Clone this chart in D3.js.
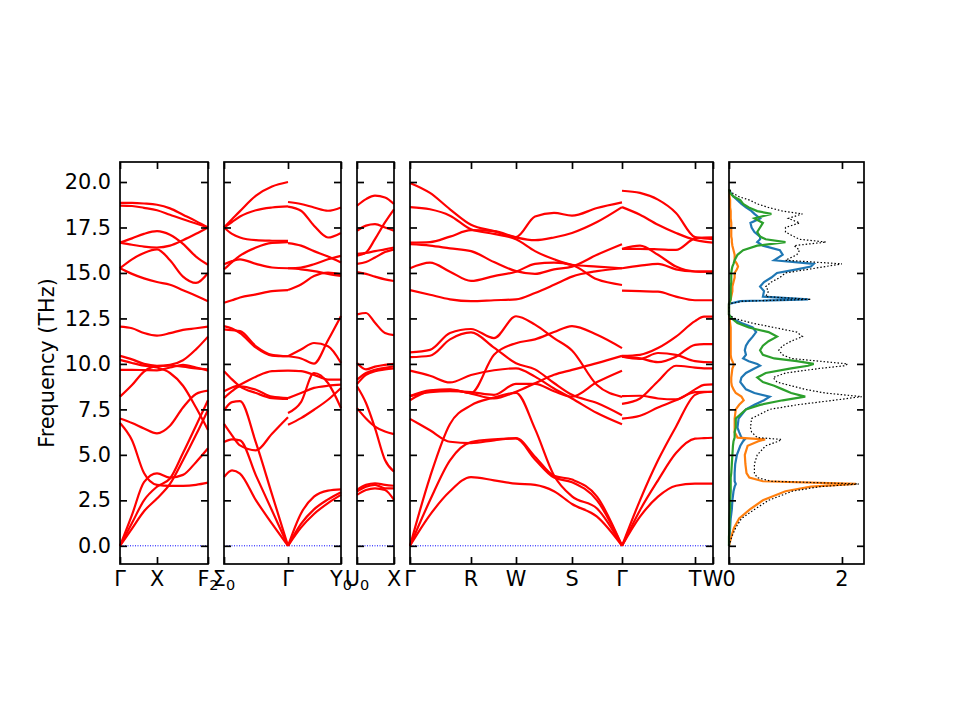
<!DOCTYPE html>
<html>
<head>
<meta charset="utf-8">
<script src="https://cdn.jsdelivr.net/npm/d3@7"></script>
<style>
  body { margin: 0; background: #fff; }
  text { font-family: "DejaVu Sans", sans-serif; }
</style>
</head>
<body>
<div id="chart"></div>
<script>
// ---- tick values / labels ----
const yTicks = [0, 2.5, 5, 7.5, 10, 12.5, 15, 17.5, 20];
const yDomain = [-1, 21.1];

// high-symmetry points along the path (path distance, per panel)
const panelTicks = [
  [0, 0.37, 0.88],
  [0, 0.64, 1.17],
  [0, 0.37],
  [0, 0.61, 1.06, 1.62, 2.12, 2.85, 3.03]
];
const panelLabels = [
  ["Γ", "X", "F_2"],
  ["Σ_0", "Γ", "Y_0"],
  ["U_0", "X"],
  ["Γ", "R", "W", "S", "Γ", "T", "W"]
];

// ---- band segments: k positions and frequencies (THz) ----
const k1 = [0, 0.12, 0.24, 0.37, 0.50, 0.63, 0.76, 0.88];
const bands1 = [
  [18.85, 18.85, 18.82, 18.75, 18.55, 18.2, 17.85, 17.5],
  [18.7, 18.68, 18.58, 18.45, 18.2, 17.95, 17.72, 17.5],
  [16.67, 16.9, 17.15, 17.3, 17.1, 16.6, 15.9, 15.45],
  [16.67, 16.55, 16.45, 16.4, 16.5, 16.8, 17.15, 17.5],
  [15.26, 15.75, 16.1, 16.3, 15.7, 14.8, 14.45, 15.0],
  [15.26, 14.95, 14.7, 14.5, 14.35, 14.05, 13.75, 13.45],
  [12.05, 11.96, 11.7, 11.56, 11.69, 11.87, 11.96, 12.05],
  [10.44, 10.25, 10.0, 9.9, 9.95, 10.2, 10.8, 11.5],
  [10.22, 10.05, 9.9, 9.8, 9.5, 8.8, 7.6, 6.37],
  [9.67, 9.67, 9.66, 9.65, 9.8, 9.95, 9.8, 9.63],
  [8.2, 8.84, 9.58, 9.88, 9.9, 9.85, 9.75, 9.7],
  [7.0, 6.75, 6.45, 6.18, 6.6, 7.6, 8.35, 8.53],
  [6.75, 5.8, 4.0, 3.35, 3.3, 3.3, 3.35, 3.47],
  [0, 1.7, 3.5, 3.98, 3.75, 3.9, 4.6, 5.36],
  [0, 1.25, 2.5, 3.25, 3.7, 5.1, 6.6, 8.0],
  [0, 0.95, 1.9, 2.6, 3.4, 4.7, 6.1, 7.47]
];

const k2a = [0, 0.08, 0.16, 0.32, 0.48, 0.64];
const bands2a = [
  [17.5, 17.95, 18.4, 19.25, 19.75, 20.0],
  [17.5, 17.8, 18.1, 18.45, 18.6, 18.66],
  [17.5, 17.15, 16.95, 16.8, 16.77, 16.76],
  [15.2, 15.6, 15.95, 16.4, 16.65, 16.7],
  [15.48, 15.65, 15.75, 15.5, 15.3, 15.26],
  [13.36, 13.5, 13.65, 13.82, 14.0, 14.06],
  [12.08, 11.95, 11.7, 10.9, 10.46, 10.42],
  [11.9, 11.85, 11.8, 10.97, 10.5, 10.42],
  [9.6, 9.15, 8.77, 8.4, 8.12, 8.07],
  [8.5, 8.7, 8.86, 9.3, 9.6, 9.63],
  [8.12, 8.5, 8.77, 8.58, 8.2, 8.12],
  [7.44, 7.9, 7.95, 5.66, 2.83, 0],
  [6.7, 6.07, 5.52, 5.25, 6.16, 7.07],
  [5.7, 5.85, 5.8, 3.86, 1.94, 0],
  [3.78, 4.15, 3.97, 2.5, 1.22, 0]
];

const k2b = [0.64, 0.77, 0.90, 1.04, 1.17];
const bands2b = [
  [18.9, 18.79, 18.6, 18.42, 18.6],
  [18.65, 18.42, 17.6, 16.95, 17.2],
  [16.64, 16.5, 16.2, 15.9, 15.57],
  [15.26, 15.3, 15.48, 15.75, 15.94],
  [15.26, 15.2, 15.1, 14.95, 14.83],
  [14.06, 14.37, 14.83, 15.02, 14.92],
  [10.42, 10.3, 10.02, 11.3, 12.63],
  [10.42, 10.79, 11.15, 10.97, 10.05],
  [9.63, 9.6, 9.4, 9.14, 9.14],
  [8.12, 8.4, 8.68, 8.8, 8.86],
  [7.3, 7.9, 9.5, 8.95, 7.57],
  [6.65, 7.02, 7.48, 8.03, 8.68],
  [0, 1.78, 2.7, 3.03, 3.1],
  [0, 1.2, 2.0, 2.55, 2.95],
  [0, 1.0, 1.75, 2.35, 2.8]
];

const k3 = [0, 0.09, 0.18, 0.28, 0.37];
const bands3 = [
  [18.7, 19.06, 19.25, 19.15, 18.79],
  [17.32, 17.6, 17.68, 17.5, 17.32],
  [15.95, 16.12, 16.86, 17.78, 18.5],
  [16.05, 16.1, 16.2, 16.3, 16.4],
  [15.5, 15.6, 15.85, 16.15, 16.3],
  [15.05, 14.95, 14.8, 14.65, 14.56],
  [12.72, 12.8, 12.26, 11.7, 11.58],
  [10.05, 9.7, 9.85, 9.95, 10.0],
  [9.14, 9.5, 9.68, 9.78, 9.87],
  [8.9, 9.4, 9.6, 9.7, 9.75],
  [8.77, 7.85, 6.47, 4.72, 4.08],
  [7.57, 7.0, 6.55, 6.28, 6.14],
  [3.07, 3.35, 3.44, 3.35, 3.3],
  [2.98, 3.25, 3.35, 3.16, 3.16],
  [2.8, 3.07, 3.16, 3.07, 2.52]
];

const k4a = [0, 0.20, 0.40, 0.61, 0.84, 1.06, 1.25, 1.44, 1.62, 1.87, 2.12];
const bands4a = [
  [19.95, 19.4, 18.5, 17.65, 17.3, 16.97, 18.1, 18.3, 18.15, 18.57, 18.88],
  [18.62, 18.5, 18.15, 17.4, 17.15, 16.85, 16.2, 15.75, 15.45, 15.35, 15.26],
  [16.67, 16.7, 17.0, 17.35, 17.3, 16.95, 16.8, 16.95, 17.2, 17.8, 18.62],
  [16.58, 16.5, 16.35, 16.2, 15.6, 15.1, 14.95, 15.2, 15.35, 16.0, 16.58],
  [15.26, 15.57, 15.07, 14.56, 14.83, 15.07, 15.5, 15.57, 15.44, 14.65, 14.34],
  [14.06, 13.8, 13.55, 13.45, 13.5, 13.55, 13.9, 14.35, 14.8, 15.1, 15.26],
  [10.63, 10.77, 11.7, 11.92, 11.42, 12.62, 12.16, 11.42, 10.74, 8.84, 8.19],
  [10.37, 10.45, 11.35, 11.73, 10.9, 10.04, 9.7, 8.95, 8.3, 7.85, 7.18],
  [9.63, 9.35, 8.98, 9.39, 9.65, 9.76, 9.3, 8.65, 8.1, 7.3, 6.68],
  [8.23, 8.55, 8.6, 8.4, 10.5, 11.14, 11.35, 11.75, 12.08, 11.6, 10.87],
  [8.0, 8.5, 8.57, 8.37, 8.1, 8.47, 8.93, 9.4, 9.67, 10.04, 10.44],
  [8.23, 8.45, 8.5, 8.45, 8.3, 8.9, 8.9, 8.5, 8.2, 9.0, 9.63],
  [6.98, 6.35, 5.72, 5.65, 5.8, 5.92, 4.9, 3.85, 3.64, 2.7, 0],
  [0, 3.78, 6.7, 7.72, 8.15, 8.41, 6.43, 3.87, 2.72, 2.05, 0],
  [0, 2.5, 4.7, 5.7, 5.85, 5.9, 4.75, 3.75, 3.5, 2.5, 0],
  [0, 1.7, 3.0, 3.78, 3.6, 3.42, 3.35, 3.0, 2.3, 1.6, 0]
];

const k4b = [2.12, 2.30, 2.48, 2.66, 2.85, 2.94, 3.03];
const bands4b = [
  [19.52, 19.4, 19.03, 18.3, 16.97, 16.9, 16.86],
  [18.62, 18.2, 17.65, 17.2, 16.82, 16.72, 16.67],
  [16.32, 16.32, 16.3, 16.27, 16.9, 16.95, 16.96],
  [16.32, 16.5, 16.0, 15.35, 15.08, 15.07, 15.07],
  [15.26, 15.4, 15.5, 15.2, 15.08, 15.07, 15.07],
  [14.03, 14.0, 13.97, 13.7, 13.5, 13.5, 13.5],
  [10.44, 10.5, 10.87, 11.5, 12.35, 12.6, 12.6],
  [10.4, 10.28, 10.6, 10.5, 10.15, 10.1, 10.09],
  [10.4, 10.3, 10.1, 10.4, 11.05, 11.09, 11.09],
  [7.8, 8.1, 9.05, 9.9, 9.8, 9.76, 9.76],
  [8.23, 8.25, 8.1, 8.05, 8.6, 8.85, 8.87],
  [6.99, 7.15, 7.6, 8.0, 8.45, 8.47, 8.47],
  [0, 2.5, 4.7, 6.55, 8.3, 8.45, 8.47],
  [0, 1.96, 3.6, 5.1, 5.89, 5.92, 5.94],
  [0, 1.6, 2.7, 3.3, 3.42, 3.42, 3.42]
];

// ---- phonon DOS ----
const dosTicks = [0, 2];
const dosFreq = [
  0, 0.5, 1, 1.5, 2, 2.5, 3, 3.25, 3.4, 3.55,
  3.75, 4, 4.5, 5, 5.5, 5.75, 5.85, 5.95, 6.25, 6.5,
  7, 7.5, 7.75, 8, 8.2, 8.4, 8.6, 8.8, 9, 9.25,
  9.5, 9.75, 9.9, 10, 10.15, 10.3, 10.5, 10.75, 11, 11.25,
  11.5, 11.75, 12, 12.25, 12.5, 12.7, 13.3, 13.45, 13.55, 13.7,
  14, 14.25, 14.5, 14.75, 15, 15.2, 15.35, 15.5, 15.7, 16,
  16.25, 16.5, 16.7, 16.85, 17, 17.25, 17.5, 17.75, 18, 18.25,
  18.4, 18.6, 18.8, 19, 19.2, 19.4, 19.6
];
const dosBlue = [
  0, 0.01, 0.02, 0.03, 0.05, 0.06, 0.08, 0.1, 0.12, 0.1,
  0.1, 0.1, 0.11, 0.14, 0.2, 0.25, 0.28, 0.22, 0.18, 0.15,
  0.17, 0.3, 0.45, 0.62, 0.72, 0.45, 0.3, 0.25, 0.2, 0.22,
  0.3, 0.45, 0.55, 0.5, 0.35, 0.25, 0.3, 0.28, 0.3, 0.35,
  0.42, 0.48, 0.42, 0.22, 0.05, 0, 0, 0.2, 1.4, 0.6,
  0.62, 0.55, 0.62, 0.75, 0.85, 1.2, 1.45, 1.5, 0.8, 0.95,
  0.9, 0.6, 0.5, 0.55, 0.55, 0.45, 0.4, 0.38, 0.55, 0.45,
  0.4, 0.3, 0.22, 0.15, 0.08, 0.03, 0
];
const dosOrange = [
  0, 0.04, 0.09, 0.18, 0.37, 0.6, 1.0, 1.45, 2.25, 0.6,
  0.36, 0.31, 0.29, 0.28, 0.33, 0.52, 0.64, 0.15, 0.1, 0.1,
  0.1, 0.12, 0.18, 0.26, 0.22, 0.12, 0.08, 0.05, 0.04, 0.04,
  0.05, 0.06, 0.08, 0.08, 0.06, 0.04, 0.03, 0.03, 0.03, 0.03,
  0.03, 0.03, 0.03, 0.02, 0.01, 0, 0, 0.02, 0.03, 0.04,
  0.06, 0.06, 0.08, 0.1, 0.1, 0.14, 0.16, 0.14, 0.1, 0.1,
  0.08, 0.06, 0.05, 0.05, 0.04, 0.04, 0.04, 0.04, 0.03, 0.03,
  0.03, 0.02, 0.02, 0.02, 0.01, 0.01, 0
];
const dosGreen = [
  0, 0, 0.01, 0.01, 0.02, 0.02, 0.03, 0.03, 0.03, 0.03,
  0.03, 0.04, 0.05, 0.06, 0.07, 0.08, 0.09, 0.1, 0.1, 0.12,
  0.12, 0.3, 0.55, 0.95, 1.35, 1.1, 0.95, 0.8, 0.6, 0.5,
  0.65, 1.1, 1.4, 1.5, 1.2, 0.8, 0.6, 0.55, 0.6, 0.7,
  0.85, 0.7, 0.35, 0.15, 0.05, 0, 0, 0.02, 0.03, 0.03,
  0.03, 0.03, 0.04, 0.04, 0.04, 0.05, 0.06, 0.08, 0.1, 0.15,
  0.25, 0.5, 1.0, 0.65, 0.55, 0.5, 0.55, 0.6, 0.45, 0.75,
  0.5, 0.35, 0.25, 0.2, 0.08, 0.02, 0
];
const dosTotal = [
  0, 0.05, 0.12, 0.22, 0.45, 0.7, 1.12, 1.6, 2.3, 0.75,
  0.5, 0.45, 0.45, 0.5, 0.65, 0.88, 0.93, 0.5, 0.4, 0.38,
  0.4, 0.72, 1.2, 1.85, 2.35, 1.7, 1.35, 1.1, 0.85, 0.78,
  1.0, 1.6, 2.05, 2.1, 1.6, 1.1, 0.95, 0.88, 0.95, 1.1,
  1.3, 1.2, 0.8, 0.4, 0.1, 0, 0, 0.25, 1.45, 0.65,
  0.7, 0.65, 0.75, 0.9, 1.0, 1.4, 1.7, 2.0, 1.0, 1.2,
  1.25, 1.15, 1.72, 1.25, 1.15, 1.0, 1.0, 1.25, 1.05, 1.3,
  0.95, 0.7, 0.5, 0.37, 0.17, 0.06, 0
];

// ---- layout ----
const W = 960, H = 720;
const plotTop = 162, plotBottom = 564, plotLeft = 120, bandRight = 713, gap = 16;
const dosLeft = 729, dosRight = 864, dosMax = 2.39;
const tickLen = 7;
const fontSize = 20.8;

const svg = d3.select("#chart").append("svg")
  .attr("width", W)
  .attr("height", H);

const y = d3.scaleLinear().domain(yDomain).range([plotBottom, plotTop]);

// one x scale per band panel, widths proportional to path length
const ranges = panelTicks.map(t => t[t.length - 1]);
const unit = (bandRight - plotLeft - gap * (ranges.length - 1)) / d3.sum(ranges);
let x0 = plotLeft;
const xScales = ranges.map(r => {
  const s = d3.scaleLinear().domain([0, r]).range([x0, x0 + r * unit]);
  x0 += r * unit + gap;
  return s;
});

const segments = [
  {panel: 0, k: k1, bands: bands1},
  {panel: 1, k: k2a, bands: bands2a},
  {panel: 1, k: k2b, bands: bands2b},
  {panel: 2, k: k3, bands: bands3},
  {panel: 3, k: k4a, bands: bands4a},
  {panel: 3, k: k4b, bands: bands4b}
];

// draw text with an optional subscript ("F_2")
function label(sel, str) {
  const [base, sub] = str.split("_");
  sel.append("tspan").text(base);
  if (sub) sel.append("tspan").attr("font-size", 14.5).attr("dy", 4).text(sub);
}

// frame + inward ticks for one panel
function frame(xs, xTickVals, showY) {
  const [xa, xb] = xs.range();
  const g = svg.append("g");

  g.append("g")
    .attr("transform", `translate(${xa},0)`)
    .call(d3.axisLeft(y).tickValues(yTicks).tickSize(-tickLen).tickPadding(9)
      .tickFormat(showY ? d3.format(".1f") : ""));
  g.append("g")
    .attr("transform", `translate(${xb},0)`)
    .call(d3.axisRight(y).tickValues(yTicks).tickSize(-tickLen).tickFormat(""));
  g.append("g")
    .attr("transform", `translate(0,${plotTop})`)
    .call(d3.axisTop(xs).tickValues(xTickVals).tickSize(-tickLen).tickFormat(""));
  g.append("g")
    .attr("transform", `translate(0,${plotBottom})`)
    .call(d3.axisBottom(xs).tickValues(xTickVals).tickSize(-tickLen).tickFormat(""));

  g.selectAll(".domain").remove();
  g.selectAll(".tick line").attr("stroke", "#000").attr("stroke-width", 1.7);
  g.selectAll(".tick text")
    .attr("font-family", "DejaVu Sans").attr("font-size", fontSize).attr("fill", "#000");

  g.append("rect")
    .attr("x", xa).attr("y", plotTop)
    .attr("width", xb - xa).attr("height", plotBottom - plotTop)
    .attr("fill", "none").attr("stroke", "#000").attr("stroke-width", 1.7);
  return g;
}

const bandLine = d3.line().curve(d3.curveMonotoneX);

// zero-frequency guides
xScales.forEach(xs => {
  svg.append("line")
    .attr("x1", xs.range()[0]).attr("x2", xs.range()[1])
    .attr("y1", y(0)).attr("y2", y(0))
    .attr("stroke", "#0000ff").attr("stroke-width", 1)
    .attr("stroke-dasharray", "1,1.5");
});

segments.forEach(seg => {
  const xs = xScales[seg.panel];
  svg.append("g").selectAll("path")
    .data(seg.bands)
    .join("path")
    .attr("fill", "none")
    .attr("stroke", "#ff0000")
    .attr("stroke-width", 2.2)
    .attr("stroke-linejoin", "round")
    .attr("d", vals => bandLine(vals.map((v, j) => [xs(seg.k[j]), y(v)])));
});

xScales.forEach((xs, i) => {
  frame(xs, panelTicks[i], i === 0);
  svg.append("g").selectAll("text")
    .data(panelTicks[i])
    .join("text")
    .attr("x", d => xs(d))
    .attr("y", plotBottom + 22)
    .attr("text-anchor", "middle")
    .attr("font-size", fontSize)
    .each(function(d, j) { label(d3.select(this), panelLabels[i][j]); });
});

// ---- DOS panel ----
const xDos = d3.scaleLinear().domain([0, dosMax]).range([dosLeft, dosRight]);
const dosLine = d3.line();
const dosSeries = [
  {vals: dosBlue, color: "#1f77b4", width: 2.2, dash: null},
  {vals: dosOrange, color: "#ff7f0e", width: 2.2, dash: null},
  {vals: dosGreen, color: "#2ca02c", width: 2.2, dash: null},
  {vals: dosTotal, color: "#000", width: 1.2, dash: "1.5,2"}
];
svg.append("g").selectAll("path")
  .data(dosSeries)
  .join("path")
  .attr("fill", "none")
  .attr("stroke", d => d.color)
  .attr("stroke-width", d => d.width)
  .attr("stroke-dasharray", d => d.dash)
  .attr("d", d => dosLine(d.vals.map((v, j) => [xDos(v), y(dosFreq[j])])));

frame(xDos, dosTicks, false);
svg.append("g").selectAll("text")
  .data(dosTicks)
  .join("text")
  .attr("x", d => xDos(d))
  .attr("y", plotBottom + 22)
  .attr("text-anchor", "middle")
  .attr("font-size", fontSize)
  .text(d => d);

// y axis title
svg.append("text")
  .attr("transform", `translate(47,${(plotTop + plotBottom) / 2}) rotate(-90)`)
  .attr("text-anchor", "middle")
  .attr("dy", "0.35em")
  .attr("font-size", fontSize)
  .text("Frequency (THz)");
</script>
</body>
</html>
